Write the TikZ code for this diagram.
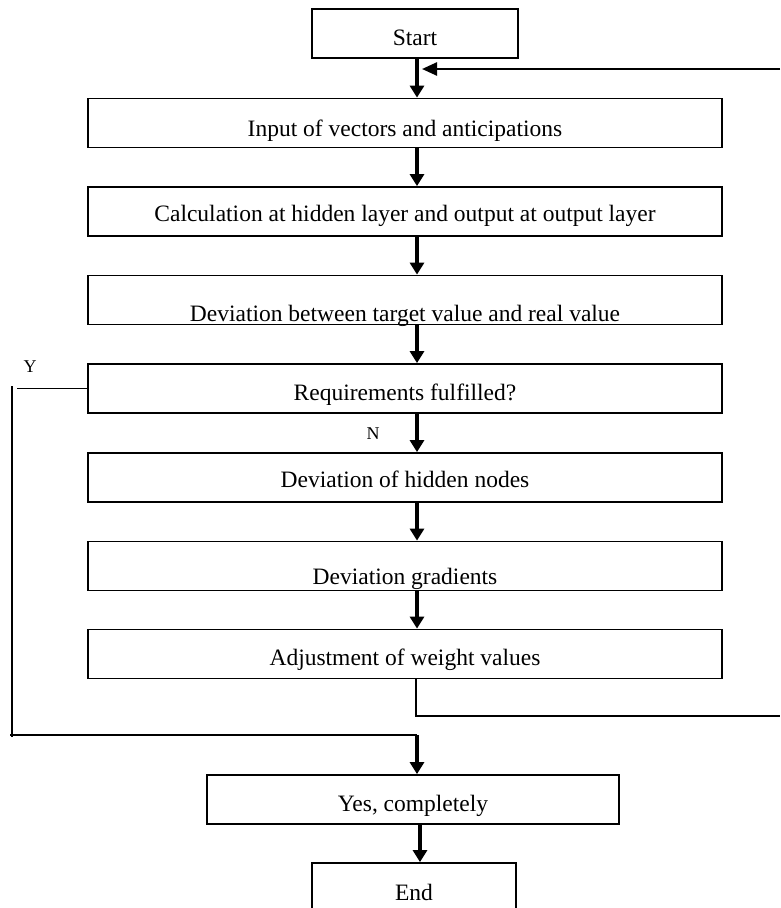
\documentclass[tikz,border=0pt]{standalone}
\usepackage{fontspec}
\setmainfont{Liberation Serif}
\usetikzlibrary{arrows.meta}
\begin{document}
\begin{tikzpicture}[x=1pt,y=-1pt,
  box/.style={draw, line width=1.8pt, inner sep=0pt, minimum height=49pt},
  mainbox/.style={box, minimum width=634pt},
  lbl/.style={anchor=base, inner sep=0pt, font=\fontsize{23.5}{28}\selectfont},
  yn/.style={anchor=base, inner sep=0pt, font=\fontsize{18}{22}\selectfont},
  arr/.style={line width=3.2pt, -{Triangle[length=12pt,width=14pt]}},
  fbarr/.style={line width=2.5pt, -{Triangle[length=15pt,width=13pt]}},
  thinline/.style={line width=1.6pt}]
\useasboundingbox (0,0) rectangle (780,908);
\clip (0,0) rectangle (780,908);
% boxes
\node[box, minimum width=206pt] (start) at (415,33.5) {};
\node[mainbox] (input) at (405,123) {};
\node[mainbox] (calc) at (405,211.5) {};
\node[mainbox] (dev) at (405,300) {};
\node[mainbox] (req) at (405,388.5) {};
\node[mainbox] (hid) at (405,477.5) {};
\node[mainbox] (grad) at (405,566) {};
\node[mainbox] (adj) at (405,654) {};
\node[box, minimum width=412pt] (yes) at (413,799.5) {};
\node[box, minimum width=204pt] (end) at (414,887.5) {};
% texts
\node[lbl] (tstart) at (415,45) {Start};
\node[lbl] (tinput) at (405,136) {Input of vectors and anticipations};
\node[lbl] (tcalc) at (405,221) {Calculation at hidden layer and output at output layer};
\node[lbl] (tdev) at (405,321) {Deviation between target value and real value};
\node[lbl] (treq) at (405,400) {Requirements fulfilled?};
\node[lbl] (thid) at (405,487) {Deviation of hidden nodes};
\node[lbl] (tgrad) at (405,584) {Deviation gradients};
\node[lbl] (tadj) at (405,665) {Adjustment of weight values};
\node[lbl] (tyes) at (413,811) {Yes, completely};
\node[lbl] (tend) at (414,900) {End};
\node[yn] (ylab) at (30,372) {Y};
\node[yn] (nlab) at (373,439) {N};
% coordinates
\coordinate (ax) at (417,0);
\coordinate (ax2) at (420,0);
\coordinate (fbtip) at (422,69);
\coordinate (fbright) at (780,69);
\coordinate (retcorner) at (416,716);
\coordinate (retright) at (780,716);
\coordinate (yh) at (17,388.5);
\coordinate (yv1) at (12,386);
\coordinate (yv2) at (12,737);
\coordinate (ycorner) at (10,735);
% main arrows
\draw[arr] (start.south -| ax) -- (input.north -| ax);
\draw[arr] (input.south -| ax) -- (calc.north -| ax);
\draw[arr] (calc.south -| ax) -- (dev.north -| ax);
\draw[arr] (dev.south -| ax) -- (req.north -| ax);
\draw[arr] (req.south -| ax) -- (hid.north -| ax);
\draw[arr] (hid.south -| ax) -- (grad.north -| ax);
\draw[arr] (grad.south -| ax) -- (adj.north -| ax);
\draw[arr] (yes.south -| ax2) -- (end.north -| ax2);
% feedback loop
\draw[thinline] (adj.south -| retcorner) -- (retcorner) -- (retright);
\draw[fbarr] (fbright) -- (fbtip);
% Y branch
\draw[thinline] (req.west) -- (yh);
\draw[thinline] (yv1) -- (yv2);
\draw[thinline] (ycorner) -- (ycorner -| ax);
\draw[arr] (ycorner -| ax) -- (yes.north -| ax);
\end{tikzpicture}
\end{document}
